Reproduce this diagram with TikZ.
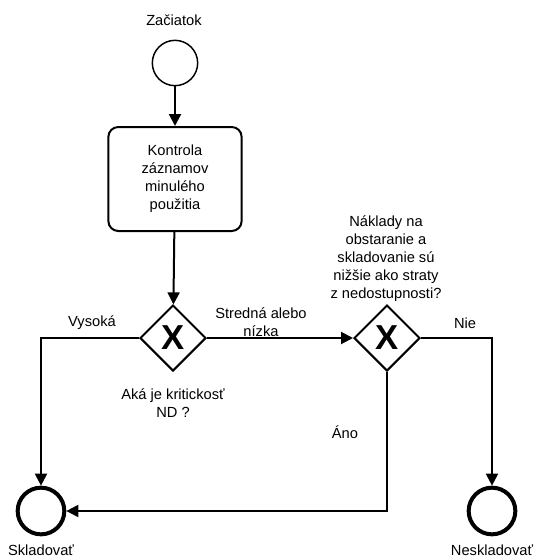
\documentclass[tikz,border=0pt]{standalone}
\usepackage{fontspec}
\setmainfont{Liberation Sans}
\usetikzlibrary{shapes.geometric,arrows.meta}

\begin{document}
\begin{tikzpicture}[x=0.75pt,y=-0.75pt,
        font=\fontsize{11}{13.5}\selectfont,
        flecha/.style={line width=1.5pt,-{Triangle[length=9pt,width=9pt]}},
        linea/.style={line width=1.5pt},
        inicio/.style={circle,draw,line width=1.1pt,minimum size=34pt,inner sep=0pt},
        fin/.style={circle,draw,line width=3pt,minimum size=35pt,inner sep=0pt},
        tarea/.style={draw,rounded corners=7.5pt,line width=1.5pt,minimum width=100pt,minimum height=78pt,align=center},
        brana/.style={diamond,draw,line width=1.5pt,minimum width=49.5pt,minimum height=49.5pt,inner sep=0pt,font=\fontsize{26}{26}\selectfont\bfseries}]
        \useasboundingbox (0,0) rectangle (533,557);

        % Udalosti a aktivita
        \node[inicio] (zaciatok) at (175,63) {};
        \node[tarea] (kontrola) at (175,179) {Kontrola\\záznamov\\minulého\\použitia};

        % Brány
        \node[brana] (brana1) at (173,338) {X};
        \node[brana] (brana2) at (387,338) {X};

        % Koncové udalosti
        \node[fin] (skladovat) at (41,511) {};
        \node[fin] (neskladovat) at (492,511) {};

        % Spojnice
        \draw[flecha] (zaciatok) -- (kontrola);
        \draw[flecha] (kontrola) -- (brana1);
        \draw[flecha] (brana1.west) -| (skladovat.north);
        \draw[flecha] (brana1.east) -- (brana2.west);
        \draw[flecha] (brana2.east) -| (neskladovat.north);
        \draw[flecha] (brana2.south) |- (skladovat.east);

        % Popisy
        \node (tZaciatok) at (174,20) {Začiatok};
        \node (tVysoka) at (92,323) {Vysoká};
        \node[align=center] (tStredna) at (261,322) {Stredná alebo\\nízka};
        \node[align=center] (tOtazka1) at (173,403) {Aká je kritickosť\\ND ?};
        \node[align=center] (tOtazka2) at (386,259) {Náklady na\\obstaranie a\\skladovanie sú\\nižšie ako straty\\z nedostupnosti?};
        \node (tNie) at (465,323) {Nie};
        \node (tAno) at (345,432) {Áno};
        \node (tSkladovat) at (41,550) {Skladovať};
        \node (tNeskladovat) at (492,550) {Neskladovať};
\end{tikzpicture}
\end{document}
